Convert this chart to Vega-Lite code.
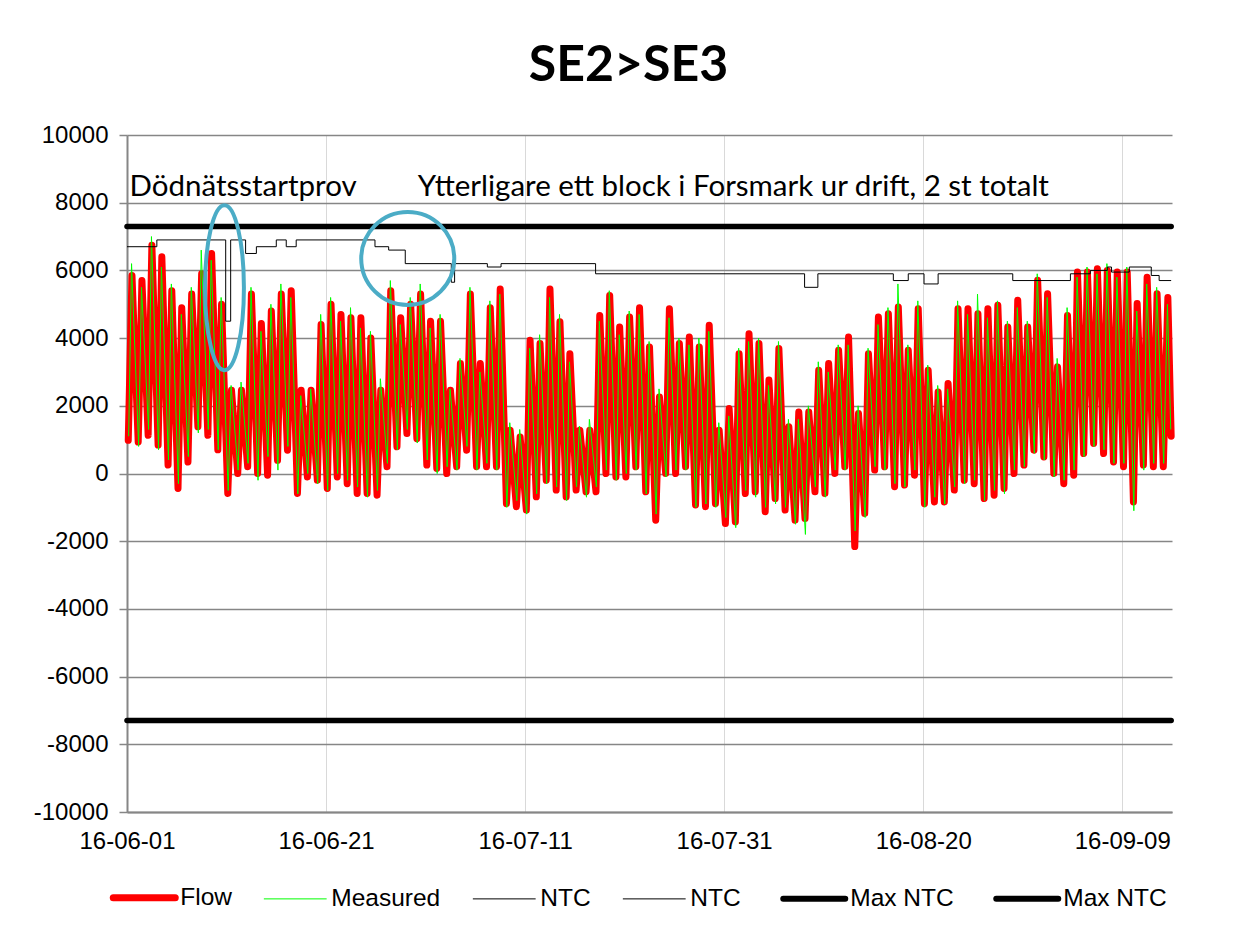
{
  "$schema": "https://vega.github.io/schema/vega-lite/v6.json",
  "autosize": {"type": "none"},
  "width": 1045,
  "height": 677,
  "padding": {"left": 127, "top": 135, "right": 63, "bottom": 123},
  "background": "white",
  "config": {
    "view": {"stroke": null},
    "font": "Liberation Sans"
  },
  "title": {"text": "SE2>SE3", "font": "Lato", "fontSize": 50, "fontWeight": "bold", "color": "black", "anchor": "middle", "frame": "group", "dx": -21, "offset": 32},
  "datasets": {
    "series": [
      {"t":"2016-06-01T03:00","v":980,"s":"Flow"},{"t":"2016-06-01T12:00","v":5850,"s":"Flow"},
      {"t":"2016-06-02T03:00","v":930,"s":"Flow"},{"t":"2016-06-02T12:00","v":5700,"s":"Flow"},
      {"t":"2016-06-03T03:00","v":1130,"s":"Flow"},{"t":"2016-06-03T12:00","v":6740,"s":"Flow"},
      {"t":"2016-06-04T03:00","v":840,"s":"Flow"},{"t":"2016-06-04T12:00","v":6400,"s":"Flow"},
      {"t":"2016-06-05T03:00","v":250,"s":"Flow"},{"t":"2016-06-05T12:00","v":5400,"s":"Flow"},
      {"t":"2016-06-06T03:00","v":-440,"s":"Flow"},{"t":"2016-06-06T12:00","v":4900,"s":"Flow"},
      {"t":"2016-06-07T03:00","v":340,"s":"Flow"},{"t":"2016-06-07T12:00","v":5300,"s":"Flow"},
      {"t":"2016-06-08T03:00","v":1380,"s":"Flow"},{"t":"2016-06-08T12:00","v":5900,"s":"Flow"},
      {"t":"2016-06-09T03:00","v":1130,"s":"Flow"},{"t":"2016-06-09T12:00","v":6500,"s":"Flow"},
      {"t":"2016-06-10T03:00","v":700,"s":"Flow"},{"t":"2016-06-10T12:00","v":5000,"s":"Flow"},
      {"t":"2016-06-11T03:00","v":-590,"s":"Flow"},{"t":"2016-06-11T12:00","v":2460,"s":"Flow"},
      {"t":"2016-06-12T03:00","v":0,"s":"Flow"},{"t":"2016-06-12T12:00","v":2460,"s":"Flow"},
      {"t":"2016-06-13T03:00","v":200,"s":"Flow"},{"t":"2016-06-13T12:00","v":5300,"s":"Flow"},
      {"t":"2016-06-14T03:00","v":0,"s":"Flow"},{"t":"2016-06-14T12:00","v":4430,"s":"Flow"},
      {"t":"2016-06-15T03:00","v":-50,"s":"Flow"},{"t":"2016-06-15T12:00","v":4800,"s":"Flow"},
      {"t":"2016-06-16T03:00","v":390,"s":"Flow"},{"t":"2016-06-16T12:00","v":5300,"s":"Flow"},
      {"t":"2016-06-17T03:00","v":690,"s":"Flow"},{"t":"2016-06-17T12:00","v":5400,"s":"Flow"},
      {"t":"2016-06-18T03:00","v":-590,"s":"Flow"},{"t":"2016-06-18T12:00","v":2460,"s":"Flow"},
      {"t":"2016-06-19T03:00","v":-100,"s":"Flow"},{"t":"2016-06-19T12:00","v":2460,"s":"Flow"},
      {"t":"2016-06-20T03:00","v":-200,"s":"Flow"},{"t":"2016-06-20T12:00","v":4400,"s":"Flow"},
      {"t":"2016-06-21T03:00","v":-440,"s":"Flow"},{"t":"2016-06-21T12:00","v":5000,"s":"Flow"},
      {"t":"2016-06-22T03:00","v":-100,"s":"Flow"},{"t":"2016-06-22T12:00","v":4700,"s":"Flow"},
      {"t":"2016-06-23T03:00","v":-300,"s":"Flow"},{"t":"2016-06-23T12:00","v":4600,"s":"Flow"},
      {"t":"2016-06-24T03:00","v":-590,"s":"Flow"},{"t":"2016-06-24T12:00","v":4600,"s":"Flow"},
      {"t":"2016-06-25T03:00","v":-590,"s":"Flow"},{"t":"2016-06-25T12:00","v":4000,"s":"Flow"},
      {"t":"2016-06-26T03:00","v":-640,"s":"Flow"},{"t":"2016-06-26T12:00","v":2460,"s":"Flow"},
      {"t":"2016-06-27T03:00","v":200,"s":"Flow"},{"t":"2016-06-27T12:00","v":5400,"s":"Flow"},
      {"t":"2016-06-28T03:00","v":790,"s":"Flow"},{"t":"2016-06-28T12:00","v":4600,"s":"Flow"},
      {"t":"2016-06-29T03:00","v":1180,"s":"Flow"},{"t":"2016-06-29T12:00","v":5000,"s":"Flow"},
      {"t":"2016-06-30T03:00","v":1030,"s":"Flow"},{"t":"2016-06-30T12:00","v":5300,"s":"Flow"},
      {"t":"2016-07-01T03:00","v":250,"s":"Flow"},{"t":"2016-07-01T12:00","v":4500,"s":"Flow"},
      {"t":"2016-07-02T03:00","v":150,"s":"Flow"},{"t":"2016-07-02T12:00","v":4500,"s":"Flow"},
      {"t":"2016-07-03T03:00","v":0,"s":"Flow"},{"t":"2016-07-03T12:00","v":2460,"s":"Flow"},
      {"t":"2016-07-04T03:00","v":200,"s":"Flow"},{"t":"2016-07-04T12:00","v":3250,"s":"Flow"},
      {"t":"2016-07-05T03:00","v":690,"s":"Flow"},{"t":"2016-07-05T12:00","v":5300,"s":"Flow"},
      {"t":"2016-07-06T03:00","v":200,"s":"Flow"},{"t":"2016-07-06T12:00","v":3250,"s":"Flow"},
      {"t":"2016-07-07T03:00","v":200,"s":"Flow"},{"t":"2016-07-07T12:00","v":4900,"s":"Flow"},
      {"t":"2016-07-08T03:00","v":200,"s":"Flow"},{"t":"2016-07-08T12:00","v":5450,"s":"Flow"},
      {"t":"2016-07-09T03:00","v":-890,"s":"Flow"},{"t":"2016-07-09T12:00","v":1280,"s":"Flow"},
      {"t":"2016-07-10T03:00","v":-980,"s":"Flow"},{"t":"2016-07-10T12:00","v":1080,"s":"Flow"},
      {"t":"2016-07-11T03:00","v":-1080,"s":"Flow"},{"t":"2016-07-11T12:00","v":3940,"s":"Flow"},
      {"t":"2016-07-12T03:00","v":-690,"s":"Flow"},{"t":"2016-07-12T12:00","v":3840,"s":"Flow"},
      {"t":"2016-07-13T03:00","v":-200,"s":"Flow"},{"t":"2016-07-13T12:00","v":5450,"s":"Flow"},
      {"t":"2016-07-14T03:00","v":-490,"s":"Flow"},{"t":"2016-07-14T12:00","v":4480,"s":"Flow"},
      {"t":"2016-07-15T03:00","v":-690,"s":"Flow"},{"t":"2016-07-15T12:00","v":3540,"s":"Flow"},
      {"t":"2016-07-16T03:00","v":-490,"s":"Flow"},{"t":"2016-07-16T12:00","v":1280,"s":"Flow"},
      {"t":"2016-07-17T03:00","v":-540,"s":"Flow"},{"t":"2016-07-17T12:00","v":1280,"s":"Flow"},
      {"t":"2016-07-18T03:00","v":-540,"s":"Flow"},{"t":"2016-07-18T12:00","v":4670,"s":"Flow"},
      {"t":"2016-07-19T03:00","v":0,"s":"Flow"},{"t":"2016-07-19T12:00","v":5260,"s":"Flow"},
      {"t":"2016-07-20T03:00","v":-100,"s":"Flow"},{"t":"2016-07-20T12:00","v":4330,"s":"Flow"},
      {"t":"2016-07-21T03:00","v":-100,"s":"Flow"},{"t":"2016-07-21T12:00","v":4620,"s":"Flow"},
      {"t":"2016-07-22T03:00","v":200,"s":"Flow"},{"t":"2016-07-22T12:00","v":4900,"s":"Flow"},
      {"t":"2016-07-23T03:00","v":-540,"s":"Flow"},{"t":"2016-07-23T12:00","v":3740,"s":"Flow"},
      {"t":"2016-07-24T03:00","v":-1380,"s":"Flow"},{"t":"2016-07-24T12:00","v":2260,"s":"Flow"},
      {"t":"2016-07-25T03:00","v":0,"s":"Flow"},{"t":"2016-07-25T12:00","v":4870,"s":"Flow"},
      {"t":"2016-07-26T03:00","v":0,"s":"Flow"},{"t":"2016-07-26T12:00","v":3840,"s":"Flow"},
      {"t":"2016-07-27T03:00","v":200,"s":"Flow"},{"t":"2016-07-27T12:00","v":4030,"s":"Flow"},
      {"t":"2016-07-28T03:00","v":-930,"s":"Flow"},{"t":"2016-07-28T12:00","v":3740,"s":"Flow"},
      {"t":"2016-07-29T03:00","v":-980,"s":"Flow"},{"t":"2016-07-29T12:00","v":4380,"s":"Flow"},
      {"t":"2016-07-30T03:00","v":-890,"s":"Flow"},{"t":"2016-07-30T12:00","v":1280,"s":"Flow"},
      {"t":"2016-07-31T03:00","v":-1480,"s":"Flow"},{"t":"2016-07-31T12:00","v":1920,"s":"Flow"},
      {"t":"2016-08-01T03:00","v":-1430,"s":"Flow"},{"t":"2016-08-01T12:00","v":3540,"s":"Flow"},
      {"t":"2016-08-02T03:00","v":-590,"s":"Flow"},{"t":"2016-08-02T12:00","v":4130,"s":"Flow"},
      {"t":"2016-08-03T03:00","v":-540,"s":"Flow"},{"t":"2016-08-03T12:00","v":3840,"s":"Flow"},
      {"t":"2016-08-04T03:00","v":-1130,"s":"Flow"},{"t":"2016-08-04T12:00","v":2760,"s":"Flow"},
      {"t":"2016-08-05T03:00","v":-740,"s":"Flow"},{"t":"2016-08-05T12:00","v":3690,"s":"Flow"},
      {"t":"2016-08-06T03:00","v":-1080,"s":"Flow"},{"t":"2016-08-06T12:00","v":1380,"s":"Flow"},
      {"t":"2016-08-07T03:00","v":-1380,"s":"Flow"},{"t":"2016-08-07T12:00","v":1820,"s":"Flow"},
      {"t":"2016-08-08T03:00","v":-1330,"s":"Flow"},{"t":"2016-08-08T12:00","v":1820,"s":"Flow"},
      {"t":"2016-08-09T03:00","v":-540,"s":"Flow"},{"t":"2016-08-09T12:00","v":3050,"s":"Flow"},
      {"t":"2016-08-10T03:00","v":-590,"s":"Flow"},{"t":"2016-08-10T12:00","v":3250,"s":"Flow"},
      {"t":"2016-08-11T03:00","v":0,"s":"Flow"},{"t":"2016-08-11T12:00","v":3640,"s":"Flow"},
      {"t":"2016-08-12T03:00","v":200,"s":"Flow"},{"t":"2016-08-12T12:00","v":4030,"s":"Flow"},
      {"t":"2016-08-13T03:00","v":-2160,"s":"Flow"},{"t":"2016-08-13T12:00","v":1770,"s":"Flow"},
      {"t":"2016-08-14T03:00","v":-1180,"s":"Flow"},{"t":"2016-08-14T12:00","v":3540,"s":"Flow"},
      {"t":"2016-08-15T03:00","v":100,"s":"Flow"},{"t":"2016-08-15T12:00","v":4620,"s":"Flow"},
      {"t":"2016-08-16T03:00","v":200,"s":"Flow"},{"t":"2016-08-16T12:00","v":4720,"s":"Flow"},
      {"t":"2016-08-17T03:00","v":-390,"s":"Flow"},{"t":"2016-08-17T12:00","v":4920,"s":"Flow"},
      {"t":"2016-08-18T03:00","v":-340,"s":"Flow"},{"t":"2016-08-18T12:00","v":3640,"s":"Flow"},
      {"t":"2016-08-19T03:00","v":-50,"s":"Flow"},{"t":"2016-08-19T12:00","v":4870,"s":"Flow"},
      {"t":"2016-08-20T03:00","v":-890,"s":"Flow"},{"t":"2016-08-20T12:00","v":3050,"s":"Flow"},
      {"t":"2016-08-21T03:00","v":-840,"s":"Flow"},{"t":"2016-08-21T12:00","v":2410,"s":"Flow"},
      {"t":"2016-08-22T03:00","v":-840,"s":"Flow"},{"t":"2016-08-22T12:00","v":2660,"s":"Flow"},
      {"t":"2016-08-23T03:00","v":-490,"s":"Flow"},{"t":"2016-08-23T12:00","v":4870,"s":"Flow"},
      {"t":"2016-08-24T03:00","v":-200,"s":"Flow"},{"t":"2016-08-24T12:00","v":4870,"s":"Flow"},
      {"t":"2016-08-25T03:00","v":-300,"s":"Flow"},{"t":"2016-08-25T12:00","v":4720,"s":"Flow"},
      {"t":"2016-08-26T03:00","v":-740,"s":"Flow"},{"t":"2016-08-26T12:00","v":4870,"s":"Flow"},
      {"t":"2016-08-27T03:00","v":-640,"s":"Flow"},{"t":"2016-08-27T12:00","v":4970,"s":"Flow"},
      {"t":"2016-08-28T03:00","v":-440,"s":"Flow"},{"t":"2016-08-28T12:00","v":4330,"s":"Flow"},
      {"t":"2016-08-29T03:00","v":0,"s":"Flow"},{"t":"2016-08-29T12:00","v":5120,"s":"Flow"},
      {"t":"2016-08-30T03:00","v":250,"s":"Flow"},{"t":"2016-08-30T12:00","v":4330,"s":"Flow"},
      {"t":"2016-08-31T03:00","v":690,"s":"Flow"},{"t":"2016-08-31T12:00","v":5710,"s":"Flow"},
      {"t":"2016-09-01T03:00","v":490,"s":"Flow"},{"t":"2016-09-01T12:00","v":5310,"s":"Flow"},
      {"t":"2016-09-02T03:00","v":0,"s":"Flow"},{"t":"2016-09-02T12:00","v":3150,"s":"Flow"},
      {"t":"2016-09-03T03:00","v":-300,"s":"Flow"},{"t":"2016-09-03T12:00","v":4670,"s":"Flow"},
      {"t":"2016-09-04T03:00","v":-50,"s":"Flow"},{"t":"2016-09-04T12:00","v":5950,"s":"Flow"},
      {"t":"2016-09-05T03:00","v":590,"s":"Flow"},{"t":"2016-09-05T12:00","v":5950,"s":"Flow"},
      {"t":"2016-09-06T03:00","v":890,"s":"Flow"},{"t":"2016-09-06T12:00","v":6050,"s":"Flow"},
      {"t":"2016-09-07T03:00","v":590,"s":"Flow"},{"t":"2016-09-07T12:00","v":6000,"s":"Flow"},
      {"t":"2016-09-08T03:00","v":340,"s":"Flow"},{"t":"2016-09-08T12:00","v":5950,"s":"Flow"},
      {"t":"2016-09-09T03:00","v":200,"s":"Flow"},{"t":"2016-09-09T12:00","v":5950,"s":"Flow"},
      {"t":"2016-09-10T03:00","v":-840,"s":"Flow"},{"t":"2016-09-10T12:00","v":5020,"s":"Flow"},
      {"t":"2016-09-11T03:00","v":250,"s":"Flow"},{"t":"2016-09-11T12:00","v":5800,"s":"Flow"},
      {"t":"2016-09-12T03:00","v":200,"s":"Flow"},{"t":"2016-09-12T12:00","v":5310,"s":"Flow"},
      {"t":"2016-09-13T03:00","v":200,"s":"Flow"},{"t":"2016-09-13T14:00","v":5200,"s":"Flow"},
      {"t":"2016-09-13T22:00","v":1100,"s":"Flow"},

      {"t":"2016-06-01T04:00","v":1100,"s":"Measured"},{"t":"2016-06-01T11:00","v":6200,"s":"Measured"},
      {"t":"2016-06-02T04:00","v":800,"s":"Measured"},{"t":"2016-06-02T11:00","v":5500,"s":"Measured"},
      {"t":"2016-06-03T04:00","v":1300,"s":"Measured"},{"t":"2016-06-03T11:00","v":7000,"s":"Measured"},
      {"t":"2016-06-04T04:00","v":700,"s":"Measured"},{"t":"2016-06-04T11:00","v":6100,"s":"Measured"},
      {"t":"2016-06-05T04:00","v":400,"s":"Measured"},{"t":"2016-06-05T11:00","v":5600,"s":"Measured"},
      {"t":"2016-06-06T04:00","v":-300,"s":"Measured"},{"t":"2016-06-06T11:00","v":4700,"s":"Measured"},
      {"t":"2016-06-07T04:00","v":500,"s":"Measured"},{"t":"2016-06-07T11:00","v":5500,"s":"Measured"},
      {"t":"2016-06-08T04:00","v":1200,"s":"Measured"},{"t":"2016-06-08T11:00","v":6600,"s":"Measured"},
      {"t":"2016-06-09T04:00","v":1300,"s":"Measured"},{"t":"2016-06-09T11:00","v":6300,"s":"Measured"},
      {"t":"2016-06-10T04:00","v":700,"s":"Measured"},{"t":"2016-06-10T11:00","v":5200,"s":"Measured"},
      {"t":"2016-06-11T04:00","v":-500,"s":"Measured"},{"t":"2016-06-11T11:00","v":2600,"s":"Measured"},
      {"t":"2016-06-12T04:00","v":100,"s":"Measured"},{"t":"2016-06-12T11:00","v":2700,"s":"Measured"},
      {"t":"2016-06-13T04:00","v":300,"s":"Measured"},{"t":"2016-06-13T11:00","v":5500,"s":"Measured"},
      {"t":"2016-06-14T04:00","v":-200,"s":"Measured"},{"t":"2016-06-14T11:00","v":4200,"s":"Measured"},
      {"t":"2016-06-15T04:00","v":500,"s":"Measured"},{"t":"2016-06-15T11:00","v":5000,"s":"Measured"},
      {"t":"2016-06-16T04:00","v":100,"s":"Measured"},{"t":"2016-06-16T11:00","v":5600,"s":"Measured"},
      {"t":"2016-06-17T04:00","v":800,"s":"Measured"},{"t":"2016-06-17T11:00","v":5200,"s":"Measured"},
      {"t":"2016-06-18T04:00","v":-600,"s":"Measured"},{"t":"2016-06-18T11:00","v":2300,"s":"Measured"},
      {"t":"2016-06-19T04:00","v":0,"s":"Measured"},{"t":"2016-06-19T11:00","v":2500,"s":"Measured"},
      {"t":"2016-06-20T04:00","v":-300,"s":"Measured"},{"t":"2016-06-20T11:00","v":4700,"s":"Measured"},
      {"t":"2016-06-21T04:00","v":-500,"s":"Measured"},{"t":"2016-06-21T11:00","v":5200,"s":"Measured"},
      {"t":"2016-06-22T04:00","v":0,"s":"Measured"},{"t":"2016-06-22T11:00","v":4500,"s":"Measured"},
      {"t":"2016-06-23T04:00","v":-200,"s":"Measured"},{"t":"2016-06-23T11:00","v":4900,"s":"Measured"},
      {"t":"2016-06-24T04:00","v":-400,"s":"Measured"},{"t":"2016-06-24T11:00","v":4300,"s":"Measured"},
      {"t":"2016-06-25T04:00","v":-700,"s":"Measured"},{"t":"2016-06-25T11:00","v":4200,"s":"Measured"},
      {"t":"2016-06-26T04:00","v":-500,"s":"Measured"},{"t":"2016-06-26T11:00","v":2800,"s":"Measured"},
      {"t":"2016-06-27T04:00","v":300,"s":"Measured"},{"t":"2016-06-27T11:00","v":5700,"s":"Measured"},
      {"t":"2016-06-28T04:00","v":700,"s":"Measured"},{"t":"2016-06-28T11:00","v":4400,"s":"Measured"},
      {"t":"2016-06-29T04:00","v":1300,"s":"Measured"},{"t":"2016-06-29T11:00","v":5200,"s":"Measured"},
      {"t":"2016-06-30T04:00","v":900,"s":"Measured"},{"t":"2016-06-30T11:00","v":5600,"s":"Measured"},
      {"t":"2016-07-01T04:00","v":400,"s":"Measured"},{"t":"2016-07-01T11:00","v":4300,"s":"Measured"},
      {"t":"2016-07-02T04:00","v":0,"s":"Measured"},{"t":"2016-07-02T11:00","v":4700,"s":"Measured"},
      {"t":"2016-07-03T04:00","v":200,"s":"Measured"},{"t":"2016-07-03T11:00","v":2500,"s":"Measured"},
      {"t":"2016-07-04T04:00","v":100,"s":"Measured"},{"t":"2016-07-04T11:00","v":3400,"s":"Measured"},
      {"t":"2016-07-05T04:00","v":800,"s":"Measured"},{"t":"2016-07-05T11:00","v":5500,"s":"Measured"},
      {"t":"2016-07-06T04:00","v":100,"s":"Measured"},{"t":"2016-07-06T11:00","v":3000,"s":"Measured"},
      {"t":"2016-07-07T04:00","v":300,"s":"Measured"},{"t":"2016-07-07T11:00","v":5100,"s":"Measured"},
      {"t":"2016-07-08T04:00","v":100,"s":"Measured"},{"t":"2016-07-08T11:00","v":5300,"s":"Measured"},
      {"t":"2016-07-09T04:00","v":-1000,"s":"Measured"},{"t":"2016-07-09T11:00","v":1500,"s":"Measured"},
      {"t":"2016-07-10T04:00","v":-800,"s":"Measured"},{"t":"2016-07-10T11:00","v":1300,"s":"Measured"},
      {"t":"2016-07-11T04:00","v":-1200,"s":"Measured"},{"t":"2016-07-11T11:00","v":3700,"s":"Measured"},
      {"t":"2016-07-12T04:00","v":-600,"s":"Measured"},{"t":"2016-07-12T11:00","v":4100,"s":"Measured"},
      {"t":"2016-07-13T04:00","v":-300,"s":"Measured"},{"t":"2016-07-13T11:00","v":5200,"s":"Measured"},
      {"t":"2016-07-14T04:00","v":-400,"s":"Measured"},{"t":"2016-07-14T11:00","v":4700,"s":"Measured"},
      {"t":"2016-07-15T04:00","v":-800,"s":"Measured"},{"t":"2016-07-15T11:00","v":3300,"s":"Measured"},
      {"t":"2016-07-16T04:00","v":-400,"s":"Measured"},{"t":"2016-07-16T11:00","v":1400,"s":"Measured"},
      {"t":"2016-07-17T04:00","v":-700,"s":"Measured"},{"t":"2016-07-17T11:00","v":1600,"s":"Measured"},
      {"t":"2016-07-18T04:00","v":-400,"s":"Measured"},{"t":"2016-07-18T11:00","v":4500,"s":"Measured"},
      {"t":"2016-07-19T04:00","v":100,"s":"Measured"},{"t":"2016-07-19T11:00","v":5400,"s":"Measured"},
      {"t":"2016-07-20T04:00","v":-200,"s":"Measured"},{"t":"2016-07-20T11:00","v":4100,"s":"Measured"},
      {"t":"2016-07-21T04:00","v":0,"s":"Measured"},{"t":"2016-07-21T11:00","v":4800,"s":"Measured"},
      {"t":"2016-07-22T04:00","v":100,"s":"Measured"},{"t":"2016-07-22T11:00","v":4700,"s":"Measured"},
      {"t":"2016-07-23T04:00","v":-600,"s":"Measured"},{"t":"2016-07-23T11:00","v":3900,"s":"Measured"},
      {"t":"2016-07-24T04:00","v":-1200,"s":"Measured"},{"t":"2016-07-24T11:00","v":2500,"s":"Measured"},
      {"t":"2016-07-25T04:00","v":-100,"s":"Measured"},{"t":"2016-07-25T11:00","v":4600,"s":"Measured"},
      {"t":"2016-07-26T04:00","v":100,"s":"Measured"},{"t":"2016-07-26T11:00","v":4000,"s":"Measured"},
      {"t":"2016-07-27T04:00","v":100,"s":"Measured"},{"t":"2016-07-27T11:00","v":3800,"s":"Measured"},
      {"t":"2016-07-28T04:00","v":-1000,"s":"Measured"},{"t":"2016-07-28T11:00","v":4000,"s":"Measured"},
      {"t":"2016-07-29T04:00","v":-900,"s":"Measured"},{"t":"2016-07-29T11:00","v":4200,"s":"Measured"},
      {"t":"2016-07-30T04:00","v":-1000,"s":"Measured"},{"t":"2016-07-30T11:00","v":1500,"s":"Measured"},
      {"t":"2016-07-31T04:00","v":-1300,"s":"Measured"},{"t":"2016-07-31T11:00","v":1700,"s":"Measured"},
      {"t":"2016-08-01T04:00","v":-1600,"s":"Measured"},{"t":"2016-08-01T11:00","v":3700,"s":"Measured"},
      {"t":"2016-08-02T04:00","v":-500,"s":"Measured"},{"t":"2016-08-02T11:00","v":3900,"s":"Measured"},
      {"t":"2016-08-03T04:00","v":-700,"s":"Measured"},{"t":"2016-08-03T11:00","v":4000,"s":"Measured"},
      {"t":"2016-08-04T04:00","v":-1000,"s":"Measured"},{"t":"2016-08-04T11:00","v":2600,"s":"Measured"},
      {"t":"2016-08-05T04:00","v":-900,"s":"Measured"},{"t":"2016-08-05T11:00","v":3900,"s":"Measured"},
      {"t":"2016-08-06T04:00","v":-1000,"s":"Measured"},{"t":"2016-08-06T11:00","v":1600,"s":"Measured"},
      {"t":"2016-08-07T04:00","v":-1500,"s":"Measured"},{"t":"2016-08-07T11:00","v":1600,"s":"Measured"},
      {"t":"2016-08-08T04:00","v":-1800,"s":"Measured"},{"t":"2016-08-08T11:00","v":2000,"s":"Measured"},
      {"t":"2016-08-09T04:00","v":-400,"s":"Measured"},{"t":"2016-08-09T11:00","v":3300,"s":"Measured"},
      {"t":"2016-08-10T04:00","v":-700,"s":"Measured"},{"t":"2016-08-10T11:00","v":3000,"s":"Measured"},
      {"t":"2016-08-11T04:00","v":100,"s":"Measured"},{"t":"2016-08-11T11:00","v":3800,"s":"Measured"},
      {"t":"2016-08-12T04:00","v":100,"s":"Measured"},{"t":"2016-08-12T11:00","v":3800,"s":"Measured"},
      {"t":"2016-08-13T04:00","v":-1700,"s":"Measured"},{"t":"2016-08-13T11:00","v":2000,"s":"Measured"},
      {"t":"2016-08-14T04:00","v":-1300,"s":"Measured"},{"t":"2016-08-14T11:00","v":3700,"s":"Measured"},
      {"t":"2016-08-15T04:00","v":200,"s":"Measured"},{"t":"2016-08-15T11:00","v":4400,"s":"Measured"},
      {"t":"2016-08-16T04:00","v":100,"s":"Measured"},{"t":"2016-08-16T11:00","v":4900,"s":"Measured"},
      {"t":"2016-08-17T04:00","v":-300,"s":"Measured"},{"t":"2016-08-17T11:00","v":5600,"s":"Measured"},
      {"t":"2016-08-18T04:00","v":-400,"s":"Measured"},{"t":"2016-08-18T11:00","v":3800,"s":"Measured"},
      {"t":"2016-08-19T04:00","v":100,"s":"Measured"},{"t":"2016-08-19T11:00","v":5100,"s":"Measured"},
      {"t":"2016-08-20T04:00","v":-1000,"s":"Measured"},{"t":"2016-08-20T11:00","v":3200,"s":"Measured"},
      {"t":"2016-08-21T04:00","v":-700,"s":"Measured"},{"t":"2016-08-21T11:00","v":2600,"s":"Measured"},
      {"t":"2016-08-22T04:00","v":-900,"s":"Measured"},{"t":"2016-08-22T11:00","v":2500,"s":"Measured"},
      {"t":"2016-08-23T04:00","v":-400,"s":"Measured"},{"t":"2016-08-23T11:00","v":5100,"s":"Measured"},
      {"t":"2016-08-24T04:00","v":-300,"s":"Measured"},{"t":"2016-08-24T11:00","v":4700,"s":"Measured"},
      {"t":"2016-08-25T04:00","v":-200,"s":"Measured"},{"t":"2016-08-25T11:00","v":5300,"s":"Measured"},
      {"t":"2016-08-26T04:00","v":-800,"s":"Measured"},{"t":"2016-08-26T11:00","v":4600,"s":"Measured"},
      {"t":"2016-08-27T04:00","v":-500,"s":"Measured"},{"t":"2016-08-27T11:00","v":5100,"s":"Measured"},
      {"t":"2016-08-28T04:00","v":-600,"s":"Measured"},{"t":"2016-08-28T11:00","v":4500,"s":"Measured"},
      {"t":"2016-08-29T04:00","v":100,"s":"Measured"},{"t":"2016-08-29T11:00","v":4900,"s":"Measured"},
      {"t":"2016-08-30T04:00","v":200,"s":"Measured"},{"t":"2016-08-30T11:00","v":4500,"s":"Measured"},
      {"t":"2016-08-31T04:00","v":600,"s":"Measured"},{"t":"2016-08-31T11:00","v":5900,"s":"Measured"},
      {"t":"2016-09-01T04:00","v":400,"s":"Measured"},{"t":"2016-09-01T11:00","v":5200,"s":"Measured"},
      {"t":"2016-09-02T04:00","v":-100,"s":"Measured"},{"t":"2016-09-02T11:00","v":3400,"s":"Measured"},
      {"t":"2016-09-03T04:00","v":-200,"s":"Measured"},{"t":"2016-09-03T11:00","v":4900,"s":"Measured"},
      {"t":"2016-09-04T04:00","v":100,"s":"Measured"},{"t":"2016-09-04T11:00","v":5800,"s":"Measured"},
      {"t":"2016-09-05T04:00","v":500,"s":"Measured"},{"t":"2016-09-05T11:00","v":6100,"s":"Measured"},
      {"t":"2016-09-06T04:00","v":800,"s":"Measured"},{"t":"2016-09-06T11:00","v":5900,"s":"Measured"},
      {"t":"2016-09-07T04:00","v":700,"s":"Measured"},{"t":"2016-09-07T11:00","v":6200,"s":"Measured"},
      {"t":"2016-09-08T04:00","v":300,"s":"Measured"},{"t":"2016-09-08T11:00","v":5800,"s":"Measured"},
      {"t":"2016-09-09T04:00","v":300,"s":"Measured"},{"t":"2016-09-09T11:00","v":6100,"s":"Measured"},
      {"t":"2016-09-10T04:00","v":-1100,"s":"Measured"},{"t":"2016-09-10T11:00","v":4800,"s":"Measured"},
      {"t":"2016-09-11T04:00","v":100,"s":"Measured"},{"t":"2016-09-11T11:00","v":5600,"s":"Measured"},
      {"t":"2016-09-12T04:00","v":300,"s":"Measured"},{"t":"2016-09-12T11:00","v":5500,"s":"Measured"},
      {"t":"2016-09-13T04:00","v":300,"s":"Measured"},{"t":"2016-09-13T13:00","v":5000,"s":"Measured"},
      {"t":"2016-09-13T21:00","v":1300,"s":"Measured"},

      {"t":"2016-06-01T00:00","v":6700,"s":"NTC"},{"t":"2016-06-04T00:00","v":6700,"s":"NTC"},
      {"t":"2016-06-04T00:00","v":6900,"s":"NTC"},{"t":"2016-06-10T22:00","v":6900,"s":"NTC"},
      {"t":"2016-06-10T22:00","v":4500,"s":"NTC"},{"t":"2016-06-11T10:00","v":4500,"s":"NTC"},
      {"t":"2016-06-11T10:00","v":6900,"s":"NTC"},{"t":"2016-06-12T22:00","v":6900,"s":"NTC"},
      {"t":"2016-06-12T22:00","v":6500,"s":"NTC"},{"t":"2016-06-14T00:00","v":6500,"s":"NTC"},
      {"t":"2016-06-14T00:00","v":6700,"s":"NTC"},{"t":"2016-06-16T00:00","v":6700,"s":"NTC"},
      {"t":"2016-06-16T00:00","v":6900,"s":"NTC"},{"t":"2016-06-17T00:00","v":6900,"s":"NTC"},
      {"t":"2016-06-17T00:00","v":6700,"s":"NTC"},{"t":"2016-06-18T00:00","v":6700,"s":"NTC"},
      {"t":"2016-06-18T00:00","v":6900,"s":"NTC"},{"t":"2016-06-25T22:00","v":6900,"s":"NTC"},
      {"t":"2016-06-25T22:00","v":6700,"s":"NTC"},{"t":"2016-06-27T07:00","v":6700,"s":"NTC"},
      {"t":"2016-06-27T07:00","v":6600,"s":"NTC"},{"t":"2016-06-28T23:00","v":6600,"s":"NTC"},
      {"t":"2016-06-28T23:00","v":6200,"s":"NTC"},{"t":"2016-07-03T14:00","v":6200,"s":"NTC"},
      {"t":"2016-07-03T14:00","v":5650,"s":"NTC"},{"t":"2016-07-03T22:00","v":5650,"s":"NTC"},
      {"t":"2016-07-03T22:00","v":6200,"s":"NTC"},{"t":"2016-07-07T05:00","v":6200,"s":"NTC"},
      {"t":"2016-07-07T05:00","v":6100,"s":"NTC"},{"t":"2016-07-08T14:00","v":6100,"s":"NTC"},
      {"t":"2016-07-08T14:00","v":6200,"s":"NTC"},{"t":"2016-07-18T02:00","v":6200,"s":"NTC"},
      {"t":"2016-07-18T02:00","v":5900,"s":"NTC"},{"t":"2016-08-08T02:00","v":5900,"s":"NTC"},
      {"t":"2016-08-08T02:00","v":5500,"s":"NTC"},{"t":"2016-08-09T10:00","v":5500,"s":"NTC"},
      {"t":"2016-08-09T10:00","v":5900,"s":"NTC"},{"t":"2016-08-17T00:00","v":5900,"s":"NTC"},
      {"t":"2016-08-17T00:00","v":5700,"s":"NTC"},{"t":"2016-08-18T12:00","v":5700,"s":"NTC"},
      {"t":"2016-08-18T12:00","v":5900,"s":"NTC"},{"t":"2016-08-20T02:00","v":5900,"s":"NTC"},
      {"t":"2016-08-20T02:00","v":5600,"s":"NTC"},{"t":"2016-08-21T12:00","v":5600,"s":"NTC"},
      {"t":"2016-08-21T12:00","v":5900,"s":"NTC"},{"t":"2016-08-29T00:00","v":5900,"s":"NTC"},
      {"t":"2016-08-29T00:00","v":5700,"s":"NTC"},{"t":"2016-09-03T19:00","v":5700,"s":"NTC"},
      {"t":"2016-09-03T19:00","v":5900,"s":"NTC"},{"t":"2016-09-05T19:00","v":5900,"s":"NTC"},
      {"t":"2016-09-05T19:00","v":6000,"s":"NTC"},{"t":"2016-09-07T12:00","v":6000,"s":"NTC"},
      {"t":"2016-09-07T12:00","v":6100,"s":"NTC"},{"t":"2016-09-07T22:00","v":6100,"s":"NTC"},
      {"t":"2016-09-07T22:00","v":5950,"s":"NTC"},{"t":"2016-09-09T17:00","v":5950,"s":"NTC"},
      {"t":"2016-09-09T17:00","v":6100,"s":"NTC"},{"t":"2016-09-11T22:00","v":6100,"s":"NTC"},
      {"t":"2016-09-11T22:00","v":5850,"s":"NTC"},{"t":"2016-09-12T17:00","v":5850,"s":"NTC"},
      {"t":"2016-09-12T17:00","v":5700,"s":"NTC"},{"t":"2016-09-13T22:00","v":5700,"s":"NTC"},

      {"t":"2016-06-01T00:00","v":7300,"s":"Max NTC"},{"t":"2016-09-13T22:00","v":7300,"s":"Max NTC"},
      {"t":"2016-06-01T00:00","v":-7300,"s":"Max NTC2"},{"t":"2016-09-13T22:00","v":-7300,"s":"Max NTC2"}
    ],
    "notes": [
      {"t":"2016-06-01T06:00","v":8200,"label":"Dödnätsstartprov"},
      {"t":"2016-06-30T05:00","v":8200,"label":"Ytterligare ett block i Forsmark ur drift, 2 st totalt"}
    ],
    "rings": [
      {"t":"2016-06-10T19:00","v":5490,"k":"a"},
      {"t":"2016-06-29T05:00","v":6350,"k":"b"}
    ]
  },
  "encoding": {
    "x": {
      "field": "t", "type": "temporal",
      "scale": {"domain": ["2016-06-01T00:00", "2016-09-14T00:00"]},
      "axis": {
        "title": null,
        "values": [
          {"year": 2016, "month": 6, "date": 1},
          {"year": 2016, "month": 6, "date": 21},
          {"year": 2016, "month": 7, "date": 11},
          {"year": 2016, "month": 7, "date": 31},
          {"year": 2016, "month": 8, "date": 20},
          {"year": 2016, "month": 9, "date": 9}
        ],
        "format": "%y-%m-%d",
        "labelFont": "Liberation Sans",
        "labelFontSize": 24,
        "labelColor": "black",
        "labelPadding": 17,
        "labelFlush": false,
        "labelOverlap": false,
        "ticks": false,
        "tickSize": 0,
        "grid": true,
        "gridColor": "#D9D9D9",
        "gridWidth": 1,
        "domainColor": "#868686",
        "domainWidth": 2
      }
    },
    "y": {
      "field": "v", "type": "quantitative",
      "scale": {"domain": [-10000, 10000], "nice": false, "zero": false},
      "axis": {
        "title": null,
        "values": [-10000, -8000, -6000, -4000, -2000, 0, 2000, 4000, 6000, 8000, 10000],
        "labelExpr": "datum.value + ''",
        "labelFont": "Liberation Sans",
        "labelFontSize": 24,
        "labelColor": "black",
        "labelPadding": 11,
        "tickSize": 8,
        "tickColor": "#868686",
        "tickWidth": 1.5,
        "grid": true,
        "gridColor": "#868686",
        "gridWidth": 1.5,
        "domainColor": "#868686",
        "domainWidth": 2
      }
    },
    "color": {
      "field": "s", "type": "nominal",
      "scale": {"domain": ["Flow", "Measured", "NTC", "NTC2", "Max NTC", "Max NTC2"], "range": ["#FF0000", "#00FF00", "#000000", "#000000", "#000000", "#000000"]},
      "legend": {
        "title": null,
        "orient": "none",
        "legendX": 5,
        "legendY": 750,
        "direction": "horizontal",
        "columnPadding": 30,
        "labelFont": "Liberation Sans",
        "labelFontSize": 24.5,
        "labelColor": "black",
        "labelOffset": 23.75,
        "labelLimit": 300,
        "symbolSize": 3844,
        "symbolType": "stroke",
        "padding": 0,
        "labelExpr": "datum.value == 'NTC2' ? 'NTC' : datum.value == 'Max NTC2' ? 'Max NTC' : datum.value",
        "encode": {
          "symbols": {
            "update": {
              "size": {"value": 3844},
              "strokeWidth": {"signal": "datum.value == 'Flow' ? 7 : (datum.value == 'Max NTC' || datum.value == 'Max NTC2') ? 6 : 1"},
              "strokeCap": {"value": "round"}
            }
          }
        }
      }
    }
  },
  "layer": [
    {
      "data": {"name": "series"},
      "transform": [{"filter": "datum.s === 'Flow'"}],
      "mark": {"type": "line", "strokeWidth": 7, "strokeJoin": "round", "strokeCap": "round"}
    },
    {
      "data": {"name": "series"},
      "transform": [{"filter": "datum.s === 'Measured'"}],
      "mark": {"type": "line", "strokeWidth": 1, "strokeJoin": "round"}
    },
    {
      "data": {"name": "series"},
      "transform": [{"filter": "datum.s === 'NTC' || datum.s === 'NTC2'"}],
      "mark": {"type": "line", "strokeWidth": 1}
    },
    {
      "data": {"name": "series"},
      "transform": [{"filter": "datum.s === 'Max NTC' || datum.s === 'Max NTC2'"}],
      "mark": {"type": "line", "strokeWidth": 5.5, "strokeCap": "round"}
    },
    {
      "data": {"name": "notes"},
      "mark": {"type": "text", "align": "left", "baseline": "alphabetic", "font": "Lato", "fontSize": 29.5, "color": "black"},
      "encoding": {"text": {"field": "label"}, "color": {"value": "black"}}
    },
    {
      "data": {"name": "rings"},
      "transform": [{"filter": "datum.k === 'a'"}],
      "mark": {"type": "point", "shape": "M0,-1C0.13,-1,0.236,-0.552,0.236,0C0.236,0.552,0.13,1,0,1C-0.13,1,-0.236,0.552,-0.236,0C-0.236,-0.552,-0.13,-1,0,-1Z", "size": 27225, "filled": false, "stroke": "#4BACC6", "strokeWidth": 4, "opacity": 1},
      "encoding": {"color": {"value": "#4BACC6"}}
    },
    {
      "data": {"name": "rings"},
      "transform": [{"filter": "datum.k === 'b'"}],
      "mark": {"type": "point", "shape": "circle", "size": 8659, "filled": false, "stroke": "#4BACC6", "strokeWidth": 4, "opacity": 1},
      "encoding": {"color": {"value": "#4BACC6"}}
    }
  ]
}
